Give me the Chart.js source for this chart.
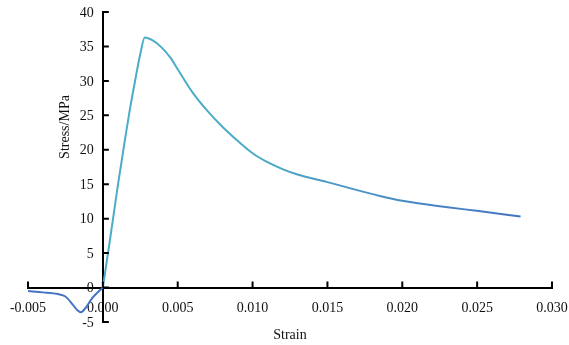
<!DOCTYPE html>
<html>
<head>
<meta charset="utf-8">
<script src="https://cdn.jsdelivr.net/npm/chart.js@4.4.0/dist/chart.umd.min.js"></script>
<style>
  body { margin: 0; background: #fff; }
  #wrap { width: 569px; height: 345px; }
</style>
</head>
<body>
<div id="wrap"><canvas id="myChart"></canvas></div>
<script>
// tension side (negative branch)
const tensStrain = [-0.005, -0.004, -0.003, -0.0025, -0.002, -0.0017, -0.00147, -0.0011, -0.0007, -0.0003, 0];
const tensStress = [-0.5, -0.7, -0.95, -1.3, -2.5, -3.3, -3.6, -2.8, -1.5, -0.6, 0];

// compression curve
const compStrain = [0, 0.0005, 0.001, 0.0015, 0.0018, 0.0021, 0.0025, 0.0028, 0.0033, 0.0039, 0.0045,
  0.005, 0.006, 0.007, 0.008, 0.009, 0.010, 0.011, 0.012, 0.013, 0.015, 0.0185, 0.020, 0.0229, 0.0251, 0.0279];
const compStress = [0, 7.3, 14.8, 21.8, 25.8, 29.4, 33.9, 36.3, 35.9, 34.9, 33.4,
  31.7, 28.3, 25.6, 23.3, 21.3, 19.5, 18.2, 17.2, 16.4, 15.3, 13.3, 12.6, 11.7, 11.1, 10.3];

const xTicks = [-0.005, 0, 0.005, 0.01, 0.015, 0.02, 0.025, 0.03];
const yTicks = [-5, 0, 5, 10, 15, 20, 25, 30, 35, 40];

const aqua = "#4bacc6";
const blue = "#4472c4";
const textColor = "#111";

const toPoints = (xs, ys) => xs.map((x, i) => ({ x: x, y: ys[i] }));

Chart.defaults.font.family = "'Liberation Serif', 'Times New Roman', serif";
Chart.defaults.font.size = 14;
Chart.defaults.color = textColor;

// inward tick marks, y labels left of the crossing axis, axis titles
const axisExtras = {
  id: "axisExtras",
  afterDraw(chart) {
    const ctx = chart.ctx;
    const xs = chart.scales.x;
    const ys = chart.scales.y;
    const x0 = xs.getPixelForValue(0);
    const y0 = ys.getPixelForValue(0);
    ctx.save();
    ctx.strokeStyle = "#000";
    ctx.lineWidth = 2;
    ctx.beginPath();
    xTicks.forEach((v) => {
      const px = xs.getPixelForValue(v);
      ctx.moveTo(px, y0);
      ctx.lineTo(px, y0 - 6);
    });
    yTicks.forEach((v) => {
      const py = ys.getPixelForValue(v);
      ctx.moveTo(x0, py);
      ctx.lineTo(x0 + 6, py);
    });
    ctx.stroke();

    ctx.fillStyle = textColor;
    ctx.font = "14px 'Liberation Serif'";
    ctx.textAlign = "right";
    ctx.textBaseline = "middle";
    yTicks.forEach((v) => {
      ctx.fillText(String(v), x0 - 9, ys.getPixelForValue(v) + 1);
    });

    ctx.textAlign = "center";
    ctx.fillText("Strain", (chart.chartArea.left + chart.chartArea.right) / 2, 335);
    ctx.translate(65, 127);
    ctx.rotate(-Math.PI / 2);
    ctx.fillText("Stress/MPa", 0, 0);
    ctx.restore();
  },
};

const ctx = document.getElementById("myChart").getContext("2d");

const config = {
  type: "scatter",
  data: {
    datasets: [
      {
        data: toPoints(tensStrain, tensStress),
        showLine: true,
        borderColor: blue,
        borderWidth: 2,
        pointRadius: 0,
        cubicInterpolationMode: "monotone",
      },
      {
        data: toPoints(compStrain, compStress),
        showLine: true,
        borderColor: (c) => {
          const chart = c.chart;
          if (!chart.chartArea) return aqua;
          const xs = chart.scales.x;
          const g = chart.ctx.createLinearGradient(xs.getPixelForValue(0), 0, xs.getPixelForValue(0.028), 0);
          g.addColorStop(0, aqua);
          g.addColorStop(0.35, aqua);
          g.addColorStop(1, blue);
          return g;
        },
        borderWidth: 2,
        pointRadius: 0,
        cubicInterpolationMode: "monotone",
      },
    ],
  },
  options: {
    responsive: true,
    maintainAspectRatio: false,
    animation: false,
    layout: { padding: { left: 28, right: 17, top: 12, bottom: 23 } },
    plugins: { legend: { display: false }, tooltip: { enabled: false } },
    scales: {
      x: {
        type: "linear",
        position: { y: 0 },
        min: -0.005,
        max: 0.03,
        afterBuildTicks: (scale) => { scale.ticks = xTicks.map((v) => ({ value: v })); },
        afterFit: (scale) => { scale.paddingLeft = 0; scale.paddingRight = 0; },
        ticks: {
          autoSkip: false,
          maxRotation: 0,
          padding: 12,
          callback: (v) => Number(v).toFixed(3),
        },
        grid: { display: true, drawOnChartArea: false, drawTicks: false },
        border: { color: "#000", width: 2 },
      },
      y: {
        type: "linear",
        position: { x: 0 },
        min: -5,
        max: 40,
        afterBuildTicks: (scale) => { scale.ticks = yTicks.map((v) => ({ value: v })); },
        afterFit: (scale) => { scale.paddingTop = 0; scale.paddingBottom = 0; },
        ticks: { display: false },
        grid: { display: true, drawOnChartArea: false, drawTicks: false },
        border: { color: "#000", width: 2 },
      },
    },
  },
  plugins: [axisExtras],
};

const myChart = new Chart(ctx, config);
</script>
</body>
</html>
